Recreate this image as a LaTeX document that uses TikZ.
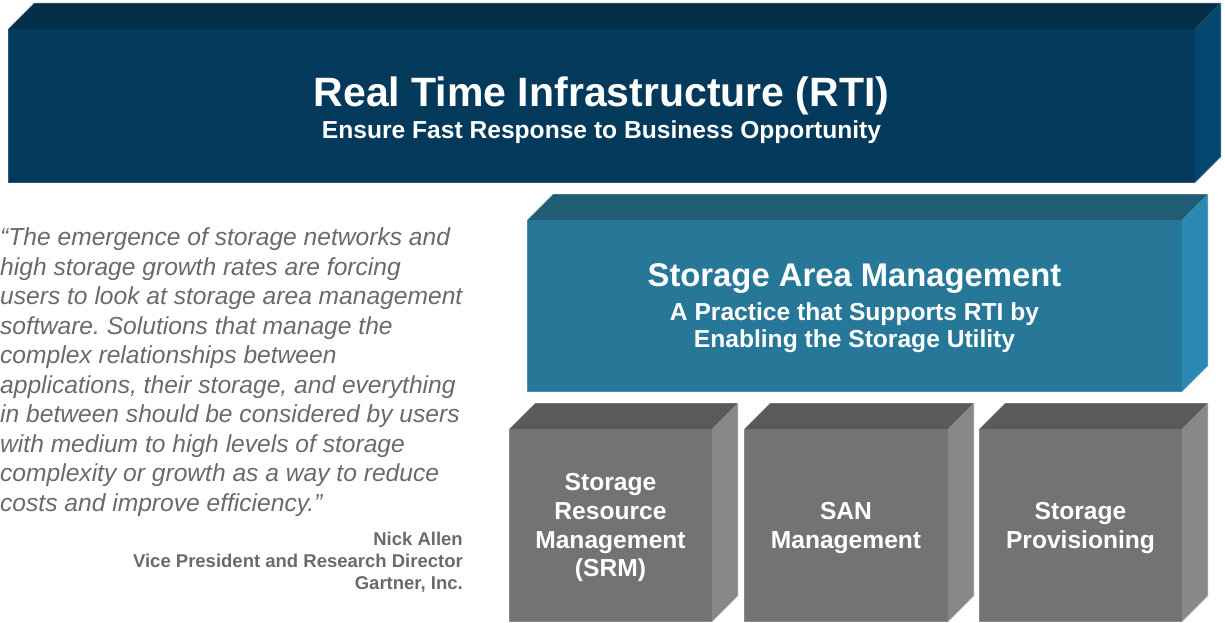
\documentclass[tikz,border=0pt]{standalone}
\usepackage{fontspec}
\setmainfont{Liberation Sans}
\frenchspacing
\definecolor{rtiFront}{HTML}{03395B}
\definecolor{rtiTop}{HTML}{022E48}
\definecolor{rtiSide}{HTML}{04476E}
\definecolor{samFront}{HTML}{277898}
\definecolor{samTop}{HTML}{205C74}
\definecolor{samSide}{HTML}{2C8AB2}
\definecolor{grFront}{HTML}{737373}
\definecolor{grTop}{HTML}{5A5A5A}
\definecolor{grSide}{HTML}{888888}
\definecolor{quoteGrey}{HTML}{6A6A6A}

% A cuboid seen from front-right-above: front face from (#1,#2) to (#3,#4),
% pushed back by 26 units; faces filled with #5 (front), #6 (top), #7 (side).
\newcommand{\drawblock}[7]{%
  \fill[#6] (#1,#2) -- (#1+26,#2-26) -- (#3+26,#2-26) -- (#3,#2) -- cycle;
  \fill[#7] (#3,#2) -- (#3+26,#2-26) -- (#3+26,#4-26) -- (#3,#4) -- cycle;
  \fill[#5] (#1,#2) rectangle (#3,#4);
  \draw[white, opacity=0.45, line width=0.8pt, line join=round]
    (#1,#4) -- (#1,#2) -- (#1+26,#2-26) -- (#3+26,#2-26) -- (#3+26,#4-26) -- (#3,#4) -- cycle;
}

\begin{document}
\begin{tikzpicture}[x=1pt, y=-1pt,
  titletext/.style={text=white, font=\bfseries\fontsize{41}{49}\selectfont, inner sep=0pt, anchor=base},
  boxtext/.style={text=white, font=\bfseries\fontsize{24.6}{29}\selectfont, inner sep=0pt, anchor=base},
  samtitle/.style={text=white, font=\bfseries\fontsize{32.8}{39}\selectfont, inner sep=0pt, anchor=base},
  quoteline/.style={text=quoteGrey, font=\itshape\fontsize{24.6}{29}\selectfont, inner sep=0pt, anchor=base west},
  authorline/.style={text=quoteGrey, font=\bfseries\fontsize{18.5}{22}\selectfont, inner sep=0pt, anchor=base east}]
  \useasboundingbox (0,0) rectangle (1225,623);

  % blocks
  \drawblock{8}{29}{1195}{183}{rtiFront}{rtiTop}{rtiSide}
  \drawblock{527}{220}{1182}{392}{samFront}{samTop}{samSide}
  \drawblock{509}{429}{712}{622}{grFront}{grTop}{grSide}
  \drawblock{744}{429}{948}{622}{grFront}{grTop}{grSide}
  \drawblock{979}{429}{1182}{622}{grFront}{grTop}{grSide}

  % Real Time Infrastructure
  \node[titletext] (rtiA) at (601.5,106.7) {Real Time Infrastructure (RTI)};
  \node[boxtext]   (rtiB) at (601.5,139)   {Ensure Fast Response to Business Opportunity};

  % Storage Area Management
  \node[samtitle] (samA) at (854.5,286.7) {Storage Area Management};
  \node[boxtext]  (samB) at (854.5,320.3) {A Practice that Supports RTI by};
  \node[boxtext]  (samC) at (854.5,347.7) {Enabling the Storage Utility};

  % bottom blocks
  \node[boxtext] (srmA) at (610.5,490) {Storage};
  \node[boxtext] (srmB) at (610.5,519) {Resource};
  \node[boxtext] (srmC) at (610.5,548) {Management};
  \node[boxtext] (srmD) at (610.5,576.5) {(SRM)};

  \node[boxtext] (sanA) at (846,519.5) {SAN};
  \node[boxtext] (sanB) at (846,548) {Management};

  \node[boxtext] (provA) at (1080.5,519.5) {Storage};
  \node[boxtext] (provB) at (1080.5,548) {Provisioning};

  % quotation
  \node[quoteline] (q1)  at (0,245.5) {“The emergence of storage networks and};
  \node[quoteline] (q2)  at (0,275.0) {high storage growth rates are forcing};
  \node[quoteline] (q3)  at (0,304.5) {users to look at storage area management};
  \node[quoteline] (q4)  at (0,334.0) {software. Solutions that manage the};
  \node[quoteline] (q5)  at (0,363.5) {complex relationships between};
  \node[quoteline] (q6)  at (0,393.0) {applications, their storage, and everything};
  \node[quoteline] (q7)  at (0,422.5) {in between should be considered by users};
  \node[quoteline] (q8)  at (0,452.0) {with medium to high levels of storage};
  \node[quoteline] (q9)  at (0,481.5) {complexity or growth as a way to reduce};
  \node[quoteline] (q10) at (0,511.0) {costs and improve efficiency.”};

  \node[authorline] (au1) at (463,545.5) {Nick Allen};
  \node[authorline] (au2) at (463,567.5) {Vice President and Research Director};
  \node[authorline] (au3) at (463,589.5) {Gartner, Inc.};
\end{tikzpicture}
\end{document}
